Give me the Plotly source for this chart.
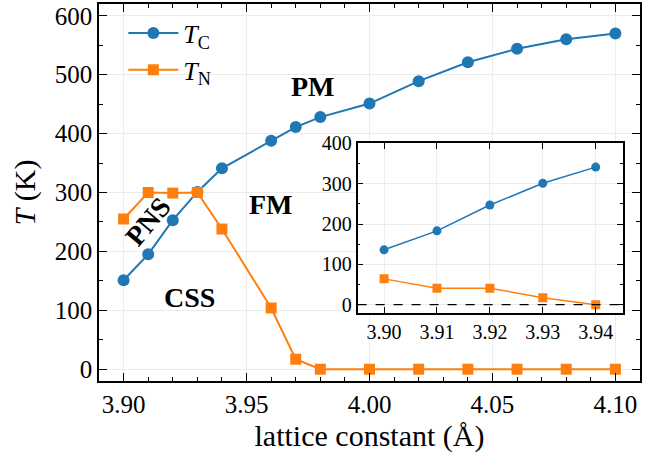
import plotly.graph_objects as go

# main data
x_main = [3.90, 3.91, 3.92, 3.93, 3.94, 3.96, 3.97, 3.98, 4.00, 4.02, 4.04, 4.06, 4.08, 4.10]
tc_main = [151, 195, 253, 301, 341, 388, 411, 428, 451, 489, 521, 544, 560, 570]
tn_main = [255, 300, 299, 300, 238, 104, 17, 0, 0, 0, 0, 0, 0, 0]

# inset data
x_inset = [3.90, 3.91, 3.92, 3.93, 3.94]
tc_inset = [136, 183, 247, 301, 341]
tn_inset = [64, 41, 41, 17, 0]

# phase labels
phase_text = ["PM", "FM", "CSS", "PNS"]
phase_x = [3.977, 3.960, 3.927, 3.910]
phase_y = [480, 280, 121, 250]
phase_angle = [0, 0, 0, -50]

x_ticks_main = [3.90, 3.95, 4.00, 4.05, 4.10]
x_ticks_inset = [3.90, 3.91, 3.92, 3.93, 3.94]

BLUE = "#1f77b4"
ORANGE = "#ff7f0e"
FONT = "Liberation Serif"

fig = go.Figure()
fig.add_trace(go.Scatter(x=x_main, y=tc_main, mode="lines+markers", name="<i>T</i><sub>C</sub>",
                         line=dict(color=BLUE, width=2), marker=dict(symbol="circle", size=12, color=BLUE)))
fig.add_trace(go.Scatter(x=x_main, y=tn_main, mode="lines+markers", name="<i>T</i><sub>N</sub>",
                         line=dict(color=ORANGE, width=2), marker=dict(symbol="square", size=11, color=ORANGE)))
fig.add_trace(go.Scatter(x=x_inset, y=tc_inset, mode="lines+markers", showlegend=False,
                         line=dict(color=BLUE, width=1.5), marker=dict(symbol="circle", size=9, color=BLUE),
                         xaxis="x2", yaxis="y2"))
fig.add_trace(go.Scatter(x=x_inset, y=tn_inset, mode="lines+markers", showlegend=False,
                         line=dict(color=ORANGE, width=1.5), marker=dict(symbol="square", size=9, color=ORANGE),
                         xaxis="x2", yaxis="y2"))

for t, xx, yy, a in zip(phase_text, phase_x, phase_y, phase_angle):
    fig.add_annotation(x=xx, y=yy, text="<b>" + t + "</b>", showarrow=False, textangle=a,
                       font=dict(family=FONT, size=28, color="black"), xref="x", yref="y")

fig.add_shape(type="line", xref="x2 domain", yref="y2", x0=0, x1=1, y0=0, y1=0,
              line=dict(color="black", width=1.2, dash="dash"))

axis_common = dict(showline=True, linecolor="black", linewidth=1.5, mirror="allticks",
                   ticks="inside", tickcolor="black", showgrid=True, gridcolor="#ececec",
                   gridwidth=1, zeroline=False, automargin=False)

fig.update_layout(
    width=660, height=458,
    margin=dict(l=99, r=20, t=4, b=77),
    plot_bgcolor="white", paper_bgcolor="white",
    font=dict(family=FONT, size=25, color="black"),
    xaxis=dict(domain=[0, 1], range=[3.89, 4.11], tickvals=x_ticks_main,
               ticktext=[f"{v:.2f}" for v in x_ticks_main], ticklen=8, tickwidth=1.2,
               minor=dict(dtick=0.01, tick0=3.90, ticks="inside", ticklen=4, tickcolor="black", showgrid=False),
               title=dict(text="lattice constant (Å)", standoff=8), **axis_common),
    yaxis=dict(domain=[0, 1], range=[-20, 620], dtick=100, ticklen=8, tickwidth=1.2,
               minor=dict(dtick=50, ticks="inside", ticklen=4, tickcolor="black", showgrid=False),
               title=dict(text="<i>T</i> (K)", standoff=10), **axis_common),
    xaxis2=dict(domain=[0.478, 0.968], anchor="y2", range=[3.895, 3.9451], tickvals=x_ticks_inset,
                ticktext=[f"{v:.2f}" for v in x_ticks_inset], ticklen=6, tickwidth=1,
                tickfont=dict(size=20), **axis_common),
    yaxis2=dict(domain=[0.181, 0.6305], anchor="x2", range=[-20, 400], dtick=100, ticklen=6, tickwidth=1,
                minor=dict(dtick=50, ticks="inside", ticklen=3, tickcolor="black", showgrid=False),
                tickfont=dict(size=20), **axis_common),
    legend=dict(x=0.045, y=0.985, xanchor="left", yanchor="top", bgcolor="rgba(255,255,255,0)",
                font=dict(size=26), itemwidth=50, tracegroupgap=4),
    showlegend=True,
)

fig.write_html("out.html", config={"displayModeBar": False},
               post_script="document.body.style.margin='0px';")
